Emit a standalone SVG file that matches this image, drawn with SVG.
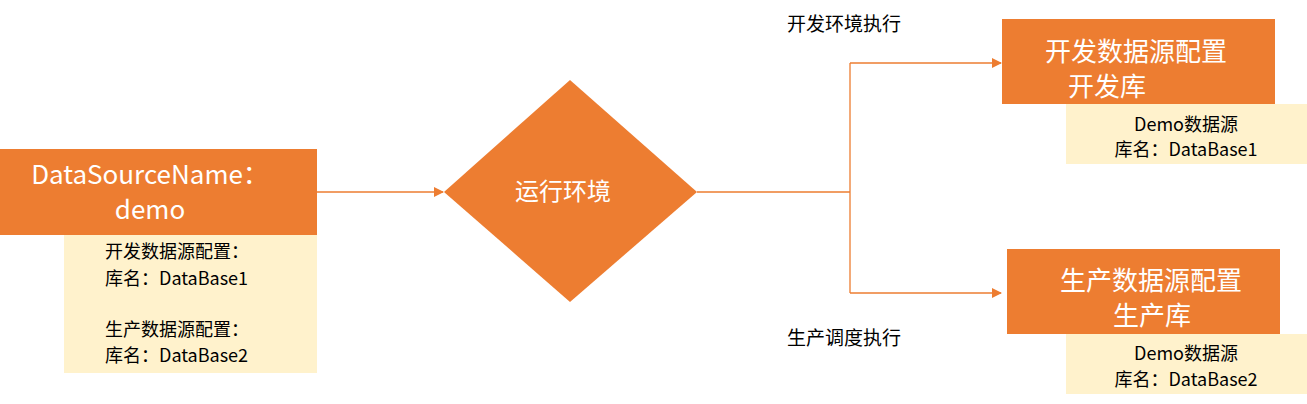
<svg xmlns="http://www.w3.org/2000/svg" width="1307" height="404" viewBox="0 0 1307 404">
<style>
.o{fill:#ED7D31}
.c{fill:#FFF2CC}
.t{font-family:"Microsoft YaHei","Noto Sans CJK SC",sans-serif}
.w{fill:#fff;font-size:26px;text-anchor:middle}
.b{fill:#000;font-size:18px}
.l{fill:#000;font-size:19px}
.ln{stroke:#ED7D31;stroke-width:1.3;fill:none}
</style>
<defs><marker id="a" markerWidth="10" markerHeight="10" refX="9" refY="5" orient="auto" markerUnits="userSpaceOnUse"><path d="M0,0 L10,5 L0,10 Z" fill="#ED7D31"/></marker></defs>
<rect width="1307" height="404" fill="#fff"/>
<g id="connectors">
<path class="ln" d="M317,192 H443" marker-end="url(#a)"/>
<path class="ln" d="M697,192 H850 M850,293 V63"/>
<path class="ln" d="M850,63 H1001" marker-end="url(#a)"/>
<path class="ln" d="M850,293 H1001" marker-end="url(#a)"/>
</g>
<g id="source">
<rect class="o" x="0" y="149" width="317" height="86"/>
<text class="t w" x="150" y="184">DataSourceName：</text>
<text class="t w" x="150" y="219">demo</text>
</g>
<g id="source-note">
<rect class="c" x="64" y="235" width="253" height="138"/>
<text class="t b" x="105" y="258">开发数据源配置：</text>
<text class="t b" x="105" y="285">库名：DataBase1</text>
<text class="t b" x="105" y="336">生产数据源配置：</text>
<text class="t b" x="105" y="362">库名：DataBase2</text>
</g>
<g id="env">
<polygon class="o" points="570,80 697,192 570,302 444,192"/>
<text class="t w" x="563" y="200" style="font-size:24px">运行环境</text>
</g>
<g id="dev">
<rect class="o" x="1002" y="19" width="273" height="85"/>
<text class="t w" x="1136" y="61">开发数据源配置</text>
<text class="t w" x="1107" y="96">开发库</text>
</g>
<g id="dev-note">
<rect class="c" x="1066" y="104" width="241" height="60"/>
<text class="t b" x="1186" y="131" text-anchor="middle">Demo数据源</text>
<text class="t b" x="1186" y="156" text-anchor="middle">库名：DataBase1</text>
</g>
<g id="prod">
<rect class="o" x="1007" y="249" width="273" height="85"/>
<text class="t w" x="1151" y="290">生产数据源配置</text>
<text class="t w" x="1152" y="325">生产库</text>
</g>
<g id="prod-note">
<rect class="c" x="1066" y="334" width="241" height="60"/>
<text class="t b" x="1186" y="360" text-anchor="middle">Demo数据源</text>
<text class="t b" x="1186" y="386" text-anchor="middle">库名：DataBase2</text>
</g>
<g id="labels">
<text class="t l" x="787" y="31">开发环境执行</text>
<text class="t l" x="787" y="345">生产调度执行</text>
</g>
</svg>
